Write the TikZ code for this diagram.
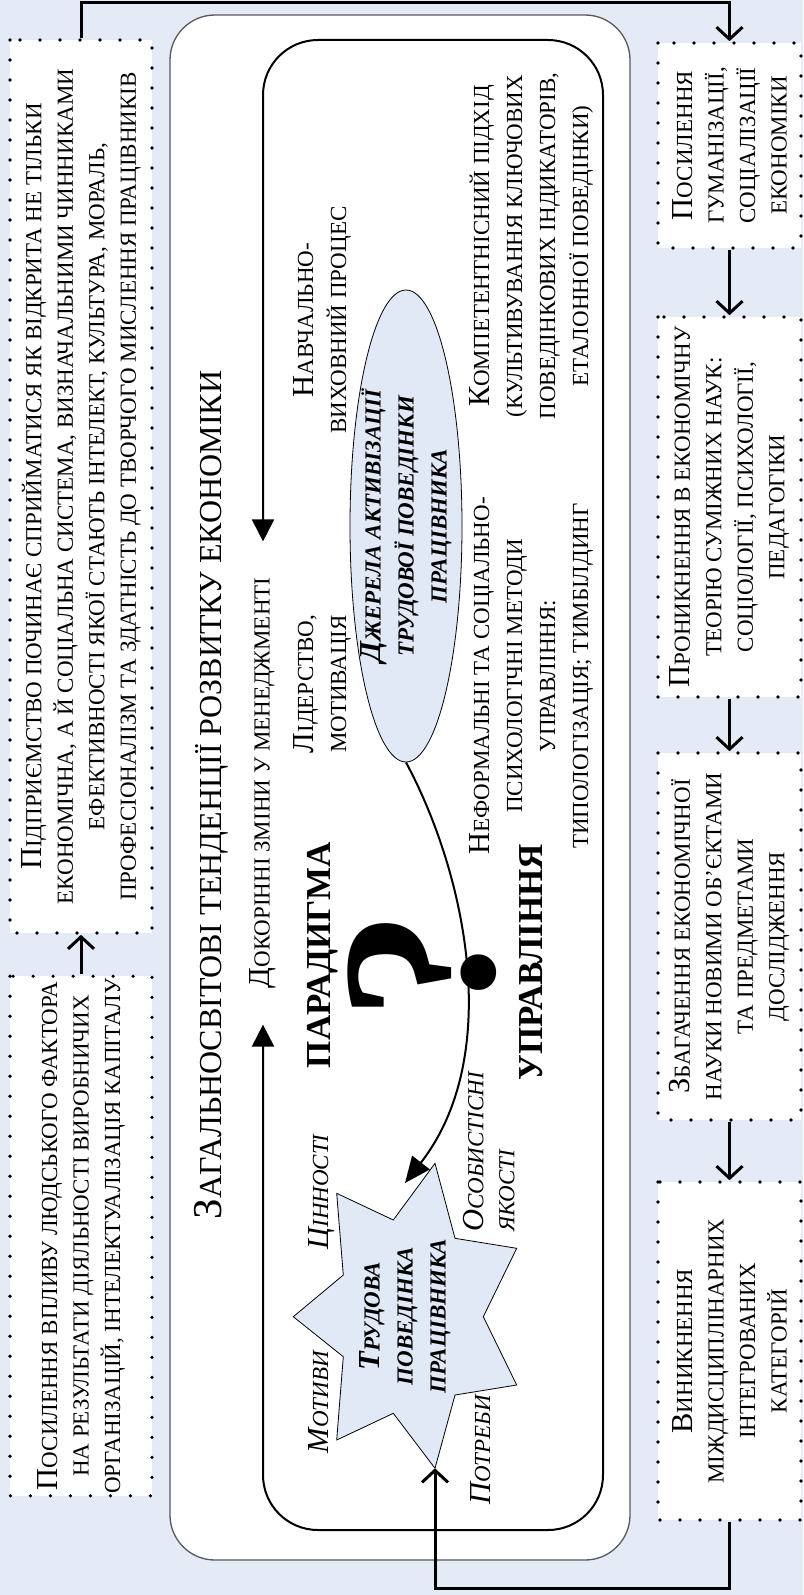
\documentclass[tikz,border=0pt]{standalone}
\usepackage{fontspec}
\setmainfont{Liberation Serif}
\usetikzlibrary{arrows.meta,shapes.geometric}
\definecolor{bgblue}{RGB}{228,235,246}
\definecolor{shapeblue}{RGB}{226,233,246}
\newcommand{\Bg}[1]{{\fontsize{30.5}{31}\selectfont #1}}
\newcommand{\Tg}[1]{{\fontsize{41}{42}\selectfont #1}}
\tikzset{
  sctext/.style={rotate=90, align=center, inner sep=0pt, font=\fontsize{23}{33}\selectfont},
  boxtext/.style={rotate=90, align=center, inner sep=0pt, font=\fontsize{23}{31.5}\selectfont},
  dotbox/.style={boxtext, fill=white, draw=black, line width=3.6pt, dash pattern=on 0pt off 20pt, line cap=round, inner sep=2pt},
  flow/.style={line width=3pt, -{Straight Barb[length=12pt,width=26pt]}},
  outerframe/.style={draw=black!65, line width=1.3pt, fill=white, rounded corners=45pt},
  innerframe/.style={draw=black, line width=2pt, rounded corners=55pt, {Triangle[length=22pt,width=22pt]}-{Triangle[length=22pt,width=22pt]}},
  curvearrow/.style={line width=2pt, -{Triangle[length=26pt,width=22pt]}},
  bigword/.style={rotate=90, inner sep=0pt, anchor=base, font=\bfseries\fontsize{35}{35}\selectfont},
  lbl/.style={rotate=90, inner sep=0pt, font=\itshape\fontsize{23}{31}\selectfont},
  bi/.style={rotate=90, align=center, inner sep=0pt, font=\bfseries\itshape\fontsize{23}{33}\selectfont},
  shapefill/.style={fill=shapeblue, draw=black, line width=0.8pt},
}
\begin{document}
\begin{tikzpicture}[x=1pt,y=-1pt]
\useasboundingbox (0,0) rectangle (803,1595);
\fill[bgblue] (0,0) rectangle (803,1595);

% outer frame
\draw[outerframe] (170,15) rectangle (630,1560);

% title
\node[rotate=90, anchor=base, inner sep=0pt, font=\fontsize{32}{34}\selectfont] (title) at (221,795) {\Tg{З}АГАЛЬНОСВІТОВІ ТЕНДЕНЦІЇ РОЗВИТКУ ЕКОНОМІКИ};

% inner frame broken by text
\node[sctext] (dok) at (263,783) {\Bg{Д}ОКОРІННІ ЗМІНИ У МЕНЕДЖМЕНТІ};
\draw[innerframe] ([yshift=36pt]dok.east) |- (603,40) -- (603,1530) -- (263,1530) -- ([yshift=-36pt]dok.west);

% ellipse
\node[shapefill, ellipse, rotate=90, minimum width=472pt, minimum height=112pt, inner sep=0pt] (ell) at (406,526) {};
\node[bi] (elltxt) at (ell.center) {\Bg{Д}ЖЕРЕЛА АКТИВІЗАЦІЇ\\ТРУДОВОЇ ПОВЕДІНКИ\\ПРАЦІВНИКА};

% star
\coordinate (P1) at (336.7,1193.3);
\coordinate (I1) at (393.3,1220);
\coordinate (P2) at (435,1163.3);
\coordinate (I2) at (455,1238.3);
\coordinate (P3) at (516.7,1248.3);
\coordinate (I3) at (483.3,1316.7);
\coordinate (P4) at (516.7,1385);
\coordinate (I4) at (455,1395);
\coordinate (P5) at (435,1468.3);
\coordinate (I5) at (393.3,1413.3);
\coordinate (P6) at (336.7,1440);
\coordinate (I6) at (343.3,1356.7);
\coordinate (P7) at (293.3,1316.7);
\coordinate (I7) at (343.3,1275);
\draw[shapefill] (P1) -- (I1) -- (P2) -- (I2) -- (P3) -- (I3) -- (P4) -- (I4) -- (P5) -- (I5) -- (P6) -- (I6) -- (P7) -- (I7) -- cycle;
\node[bi] (startxt) at (405,1316) {\Bg{Т}РУДОВА\\ПОВЕДІНКА\\ПРАЦІВНИКА};

% curved arrow
\coordinate (cend) at (405,1183);
\draw[curvearrow] (ell.west) .. controls (466,874) and (504,1056) .. (cend);

% labels around star
\node[lbl, anchor=base] (cin) at (328,1192) {\Bg{Ц}ІННОСТІ};
\node[lbl, anchor=base] (mot) at (328,1402) {\Bg{М}ОТИВИ};
\node[lbl, anchor=base] (pot) at (490,1450) {\Bg{П}ОТРЕБИ};
\node[lbl, align=left, anchor=west] (oso) at (489,1232) {\Bg{О}СОБИСТІСНІ\\ЯКОСТІ};

% inner texts
\node[sctext] (lid) at (322,684) {\Bg{Л}ІДЕРСТВО,\\МОТИВАЦІЯ};
\node[sctext] (nav) at (322,320) {\Bg{Н}АВЧАЛЬНО-\\ВИХОВНИЙ ПРОЦЕС};
\node[sctext] (komp) at (531,246) {\Bg{К}ОМПЕТЕНТНІСНИЙ ПІДХІД\\(КУЛЬТИВУВАННЯ КЛЮЧОВИХ\\ПОВЕДІНКОВИХ ІНДИКАТОРІВ,\\ЕТАЛОННОЇ ПОВЕДІНКИ)};
\node[sctext] (neform) at (531,676) {\Bg{Н}ЕФОРМАЛЬНІ ТА СОЦІАЛЬНО-\\ПСИХОЛОГІЧНІ МЕТОДИ\\УПРАВЛІННЯ:\\ТИПОЛОГІЗАЦІЯ; ТИМБІЛДИНГ};

\node[bigword] (par) at (330,955) {ПАРАДИГМА};
\node[bigword] (upr) at (542,962) {УПРАВЛІННЯ};
\node[rotate=90, anchor=base, inner sep=0pt, font=\bfseries\fontsize{220}{220}\selectfont] (q) at (493,965) {?};

% left boxes
\node[dotbox, minimum width=893pt, minimum height=142pt] (b1) at (81,486.5) {\Bg{П}ІДПРИЄМСТВО ПОЧИНАЄ СПРИЙМАТИСЯ ЯК ВІДКРИТА НЕ ТІЛЬКИ\\ЕКОНОМІЧНА, А Й СОЦІАЛЬНА СИСТЕМА, ВИЗНАЧАЛЬНИМИ ЧИННИКАМИ\\ЕФЕКТИВНОСТІ ЯКОЇ СТАЮТЬ ІНТЕЛЕКТ, КУЛЬТУРА, МОРАЛЬ,\\ПРОФЕСІОНАЛІЗМ ТА ЗДАТНІСТЬ ДО ТВОРЧОГО МИСЛЕННЯ ПРАЦІВНИКІВ};
\node[dotbox, minimum width=512pt, minimum height=142pt] (b2) at (81,1236) {\Bg{П}ОСИЛЕННЯ ВПЛИВУ ЛЮДСЬКОГО ФАКТОРА\\НА РЕЗУЛЬТАТИ ДІЯЛЬНОСТІ ВИРОБНИЧИХ\\ОРГАНІЗАЦІЙ, ІНТЕЛЕКТУАЛІЗАЦІЯ КАПІТАЛУ};

% right boxes
\node[dotbox, minimum width=205pt, minimum height=143pt] (r1) at (729.5,145.5) {\Bg{П}ОСИЛЕННЯ\\ГУМАНІЗАЦІЇ,\\СОЦІАЛІЗАЦІЇ\\ЕКОНОМІКИ};
\node[dotbox, minimum width=380pt, minimum height=143pt] (r2) at (729.5,507) {\Bg{П}РОНИКНЕННЯ В ЕКОНОМІЧНУ\\ТЕОРІЮ СУМІЖНИХ НАУК:\\СОЦІОЛОГІЇ, ПСИХОЛОГІЇ,\\ПЕДАГОГІКИ};
\node[dotbox, minimum width=367pt, minimum height=143pt] (r3) at (729.5,936.5) {\Bg{З}БАГАЧЕННЯ ЕКОНОМІЧНОЇ\\НАУКИ НОВИМИ ОБ'ЄКТАМИ\\ТА ПРЕДМЕТАМИ\\ДОСЛІДЖЕННЯ};
\node[dotbox, minimum width=338pt, minimum height=143pt] (r4) at (729.5,1351) {\Bg{В}ИНИКНЕННЯ\\МІЖДИСЦИПЛІНАРНИХ\\ІНТЕГРОВАНИХ\\КАТЕГОРІЙ};

% flow connectors
\coordinate (topy) at (0,3);
\coordinate (boty) at (0,1588);
\draw[flow] (b2.east) -- (b1.west);
\draw[flow] (b1.east) -- (b1.east |- topy) -- (r1.east |- topy) -- (r1.east);
\draw[flow] (r1.west) -- (r2.east);
\draw[flow] (r2.west) -- (r3.east);
\draw[flow] (r3.west) -- (r4.east);
\draw[flow] (r4.west) -- (r4.west |- boty) -- (P5 |- boty) -- (P5);
\end{tikzpicture}
\end{document}
